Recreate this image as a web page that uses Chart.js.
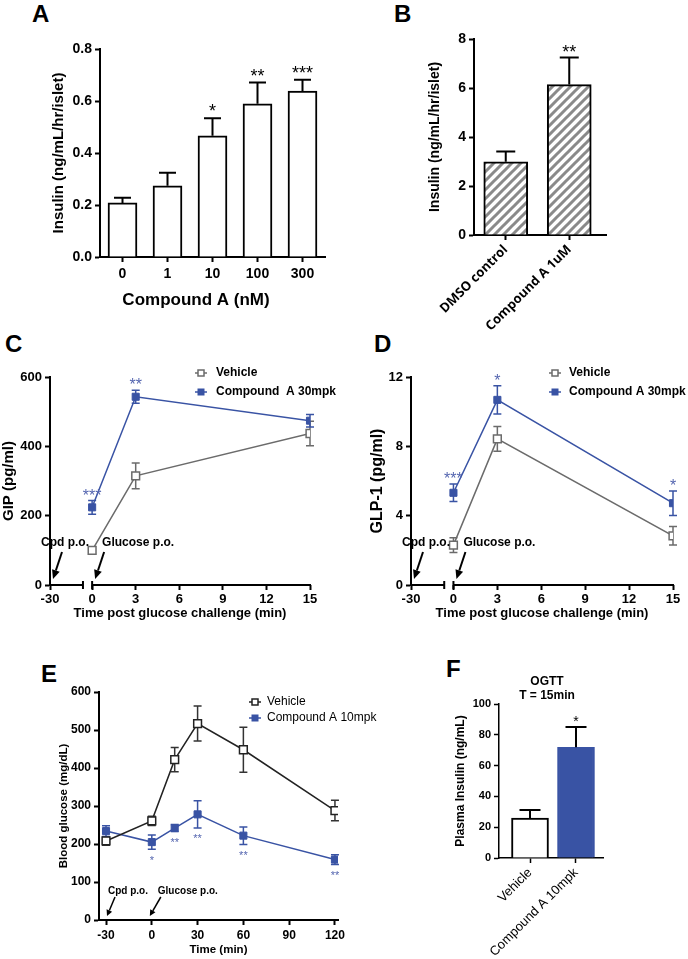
<!DOCTYPE html>
<html><head><meta charset="utf-8">
<script src="https://cdn.jsdelivr.net/npm/chart.js@4.4.1/dist/chart.umd.min.js"></script>
<style>
html,body{margin:0;padding:0;background:#fff;width:688px;height:959px;overflow:hidden;position:relative;}
.letter{position:absolute;font:bold 24px "Liberation Sans",Arial,sans-serif;line-height:1;color:#000;}
canvas{position:absolute;}
</style></head><body>
<div class="letter" style="left:32px;top:2px">A</div>
<div class="letter" style="left:394px;top:2px">B</div>
<div class="letter" style="left:5px;top:332px">C</div>
<div class="letter" style="left:374px;top:332px">D</div>
<div class="letter" style="left:41px;top:662px">E</div>
<div class="letter" style="left:446px;top:657px">F</div>
<script>
// ---------- DATA ----------
// Panel A
const aCategories = ['0', '1', '10', '100', '300'];
const aInsulin = [0.208, 0.274, 0.466, 0.589, 0.638];
const aInsulinErr = [0.020, 0.050, 0.068, 0.082, 0.044];
const aSig = ['', '', '*', '**', '***'];
const aYTicks = [0, 0.2, 0.4, 0.6, 0.8];

// Panel B
const bCategories = ['DMSO control', 'Compound A 1uM'];
const bInsulin = [2.99, 6.14];
const bInsulinErr = [0.42, 1.10];
const bSig = ['', '**'];
const bYTicks = [0, 2, 4, 6, 8];

// Panel C (GIP)
const cTime = [0, 3, 15];
const cVehicle = [100, 315, 437];
const cVehicleErr = [10, 37, 35];
const cCompound = [224, 543, 474];
const cCompoundErr = [20, 19, 18];
const cSig = ['***', '**', ''];
const cXTicks = [-30, 0, 3, 6, 9, 12, 15];
const cYTicks = [0, 200, 400, 600];

// Panel D (GLP-1)
const dTime = [0, 3, 15];
const dVehicle = [2.30, 8.43, 2.84];
const dVehicleErr = [0.42, 0.72, 0.53];
const dCompound = [5.32, 10.68, 4.72];
const dCompoundErr = [0.50, 0.81, 0.71];
const dSig = ['***', '*', '*'];
const dXTicks = [-30, 0, 3, 6, 9, 12, 15];
const dYTicks = [0, 4, 8, 12];

// Panel E (OGTT blood glucose)
const eTime = [-30, 0, 15, 30, 60, 120];
const eVehicle = [208, 261, 422, 517, 448, 288];
const eVehicleErr = [11, 12, 32, 46, 59, 27];
const eCompound = [234, 205, 242, 278, 222, 159];
const eCompoundErr = [14, 19, 9, 36, 23, 13];
const eSig = ['', '*', '**', '**', '**', '**'];
const eXTicks = [-30, 0, 30, 60, 90, 120];
const eYTicks = [0, 100, 200, 300, 400, 500, 600];

// Panel F (plasma insulin)
const fCategories = ['Vehicle', 'Compound A 10mpk'];
const fInsulin = [25.9, 71.9];
const fInsulinErr = [5.2, 13.2];
const fSig = ['', '*'];
const fYTicks = [0, 20, 40, 60, 80, 100];

// ---------- STYLE ----------
const FAM = '"Liberation Sans", Arial, Helvetica, sans-serif';
const BLUE = '#3953a4';
const GRAY = '#6b6b6b';
Chart.defaults.font.family = FAM;
Chart.defaults.color = '#000';
Chart.defaults.animation = false;
Chart.defaults.events = [];
Chart.defaults.plugins.legend.display = false;
Chart.defaults.plugins.tooltip.enabled = false;

// broken time axis: -30 min is shown close to 0
const BREAK_SHOWN_AT = -2.9, BREAK_GAP_FROM = -0.63;
const brk = t => (t < 0 ? BREAK_SHOWN_AT : t);

function makeCanvas(r) {
  const c = document.createElement('canvas');
  c.width = r[2]; c.height = r[3];
  c.style.left = r[0] + 'px'; c.style.top = r[1] + 'px';
  c.style.width = r[2] + 'px'; c.style.height = r[3] + 'px';
  document.body.appendChild(c);
  return c;
}
function frame(r, area) {
  return {
    padding: {left: 0, top: area.T - r[1], right: r[0] + r[2] - area.R, bottom: 0},
    yFit: s => { s.width = area.L - r[0]; },
    xFit: s => { s.height = r[1] + r[3] - area.B; }
  };
}
function bold(size) { return {family: FAM, size, weight: 'bold', lineHeight: 1.2}; }
function yTitle(text, font, cx) {
  return {display: true, text, font, color: '#000', padding: {top: cx - font.size * 0.6, bottom: 0}};
}
function xTitle(text, font, fromBottom) {
  return {display: true, text, font, color: '#000', padding: {top: 0, bottom: fromBottom - font.size * 0.6}};
}
function axisLook(lw, tl) {
  return {
    grid: {display: true, drawOnChartArea: false, drawTicks: true, tickLength: tl, tickWidth: lw, color: '#000', tickColor: '#000', offset: false},
    border: {display: true, color: '#000', width: lw}
  };
}
function linY(ticks, fit, font, title, fmt, lw) {
  return Object.assign({
    type: 'linear', position: 'left', min: ticks[0], max: ticks[ticks.length - 1],
    afterFit: fit,
    afterBuildTicks: s => { s.ticks = ticks.map(v => ({value: v})); },
    ticks: {font, color: '#000', padding: 3, callback: fmt || (v => String(v))},
    title
  }, axisLook(lw || 2, 5));
}

// ---------- PLUGINS ----------
function drawErrors(chart, layer) {
  const ctx = chart.ctx;
  chart.data.datasets.forEach((ds, i) => {
    if (!ds.errors || (ds.errorLayer || 'before') !== layer) return;
    const meta = chart.getDatasetMeta(i);
    const ys = chart.scales[meta.yAxisID];
    ctx.save();
    ctx.strokeStyle = ds.errorColor; ctx.lineWidth = ds.errorWidth;
    meta.data.forEach((el, j) => {
      const d = ds.data[j]; const v = typeof d === 'object' ? d.y : d;
      const e = ds.errors[j]; const x = el.x; const cw = ds.errorCap / 2;
      const yt = ys.getPixelForValue(v + e);
      const yb = ds.errorMode === 'up' ? ys.getPixelForValue(v) : ys.getPixelForValue(v - e);
      ctx.beginPath();
      ctx.moveTo(x, yt); ctx.lineTo(x, yb);
      ctx.moveTo(x - cw, yt); ctx.lineTo(x + cw, yt);
      if (ds.errorMode !== 'up') { ctx.moveTo(x - cw, yb); ctx.lineTo(x + cw, yb); }
      ctx.stroke();
    });
    ctx.restore();
  });
}
const errorPlugin = {
  id: 'errorBars',
  beforeDatasetsDraw(chart) { drawErrors(chart, 'before'); },
  afterDatasetsDraw(chart) {
    drawErrors(chart, 'after');
    const ctx = chart.ctx;
    chart.data.datasets.forEach((ds, i) => {
      if (!ds.sig) return;
      const meta = chart.getDatasetMeta(i);
      const ys = chart.scales[meta.yAxisID];
      ctx.save();
      ctx.fillStyle = ds.sigColor; ctx.font = ds.sigFont;
      ctx.textAlign = 'center'; ctx.textBaseline = 'alphabetic';
      meta.data.forEach((el, j) => {
        const s = ds.sig[j]; if (!s) return;
        const d = ds.data[j]; const v = typeof d === 'object' ? d.y : d; const e = ds.errors[j];
        let yc;
        if (ds.sigBelow) yc = ys.getPixelForValue(v - e) + ds.sigGap;
        else yc = ys.getPixelForValue(v + e) - ds.sigGap;
        ctx.fillText(s, el.x, yc + 0.57 * ds.sigSize);
      });
      ctx.restore();
    });
  }
};
const notesPlugin = {
  id: 'notes',
  afterDraw(chart, args, o) {
    const ctx = chart.ctx;
    const xs = chart.scales.x, ys = chart.scales.y;
    if (o.brokenAxis) {
      const y = chart.chartArea.bottom;
      const g1 = xs.getPixelForValue(BREAK_GAP_FROM), g2 = xs.getPixelForValue(0);
      ctx.save(); ctx.strokeStyle = '#000'; ctx.lineWidth = 2;
      ctx.beginPath();
      ctx.moveTo(xs.left - 1, y); ctx.lineTo(g1, y);
      ctx.moveTo(g2, y); ctx.lineTo(xs.right + 1, y);
      ctx.moveTo(g1, y - 4); ctx.lineTo(g1, y + 4);
      ctx.moveTo(g2, y - 4); ctx.lineTo(g2, y + 4);
      ctx.stroke(); ctx.restore();
    }
    (o.arrows || []).forEach(a => {
      const px = xs.getPixelForValue(a.at), py = ys.getPixelForValue(0);
      ctx.save();
      ctx.font = a.font; ctx.fillStyle = '#000'; ctx.textBaseline = 'middle'; ctx.textAlign = 'left';
      ctx.fillText(a.text, px + a.textDx, py + a.textDy);
      const x1 = px + a.tail[0], y1 = py + a.tail[1], x2 = px + a.tip[0], y2 = py + a.tip[1];
      const ang = Math.atan2(y2 - y1, x2 - x1);
      const hl = a.head, hw = a.headW;
      const bx = x2 - hl * Math.cos(ang), by = y2 - hl * Math.sin(ang);
      ctx.strokeStyle = '#000'; ctx.lineWidth = a.width;
      ctx.beginPath(); ctx.moveTo(x1, y1); ctx.lineTo(bx, by); ctx.stroke();
      ctx.beginPath(); ctx.moveTo(x2, y2);
      ctx.lineTo(bx + hw * Math.sin(ang), by - hw * Math.cos(ang));
      ctx.lineTo(bx - hw * Math.sin(ang), by + hw * Math.cos(ang));
      ctx.closePath(); ctx.fill();
      ctx.restore();
    });
    const lg = o.legend;
    if (lg) {
      chart.data.datasets.forEach((ds, i) => {
        const y = lg.y + i * lg.dy;
        ctx.save();
        ctx.strokeStyle = ds.borderColor; ctx.lineWidth = ds.borderWidth;
        ctx.beginPath(); ctx.moveTo(lg.x - lg.half, y); ctx.lineTo(lg.x + lg.half, y); ctx.stroke();
        const s = lg.box;
        ctx.fillStyle = ds.pointBackgroundColor; ctx.fillRect(lg.x - s / 2, y - s / 2, s, s);
        ctx.strokeStyle = ds.pointBorderColor; ctx.lineWidth = ds.pointBorderWidth;
        ctx.strokeRect(lg.x - s / 2, y - s / 2, s, s);
        ctx.font = lg.font; ctx.fillStyle = '#000'; ctx.textBaseline = 'middle'; ctx.textAlign = 'left';
        ctx.fillText(ds.label, lg.textX, y);
        ctx.restore();
      });
    }
    (o.texts || []).forEach(t => {
      ctx.save(); ctx.font = t.font; ctx.fillStyle = '#000'; ctx.textAlign = 'center'; ctx.textBaseline = 'middle';
      ctx.fillText(t.text, t.x, t.y); ctx.restore();
    });
    if (o.extendX) {
      const y = chart.chartArea.bottom;
      ctx.save(); ctx.strokeStyle = '#000'; ctx.lineWidth = o.extendX.w;
      ctx.beginPath(); ctx.moveTo(xs.right - 1, y); ctx.lineTo(xs.right + o.extendX.len, y); ctx.stroke(); ctx.restore();
    }
  }
};
Chart.register(errorPlugin, notesPlugin);

// ---------- PANEL A ----------
(function () {
  const R = [0, 0, 360, 330];
  const F = frame(R, {L: 100, T: 49, R: 325, B: 257});
  new Chart(makeCanvas(R), {
    type: 'bar',
    data: {labels: aCategories, datasets: [{
      data: aInsulin, backgroundColor: '#fff', borderColor: '#000', borderWidth: 2, borderSkipped: 'start',
      barThickness: 29,
      errors: aInsulinErr, errorMode: 'up', errorLayer: 'after', errorColor: '#000', errorWidth: 2, errorCap: 17,
      sig: aSig, sigColor: '#000', sigFont: '18px ' + FAM, sigSize: 18, sigGap: 11
    }]},
    options: {
      responsive: false, layout: {padding: F.padding},
      plugins: {notes: {texts: [{text: 'Compound A (nM)', x: 196, y: 300, font: 'bold 17px ' + FAM}]}},
      scales: {
        x: Object.assign({type: 'category', offset: true, afterFit: F.xFit,
          ticks: {font: bold(14), color: '#000', padding: 4}}, axisLook(2, 5)),
        y: linY(aYTicks, F.yFit, bold(14), yTitle('Insulin (ng/mL/hr/islet)', bold(15), 59), v => v.toFixed(1))
      }
    }
  });
})();

// ---------- PANEL B ----------
(function () {
  const R = [360, 0, 328, 345];
  const F = frame(R, {L: 474, T: 39, R: 601, B: 235});
  const t = document.createElement('canvas'); t.width = 9; t.height = 9;
  const g = t.getContext('2d');
  g.fillStyle = '#fff'; g.fillRect(0, 0, 9, 9);
  g.strokeStyle = '#8a8a8a'; g.lineWidth = 3;
  g.beginPath(); g.moveTo(-2, 11); g.lineTo(11, -2); g.moveTo(-2, 2); g.lineTo(2, -2); g.moveTo(7, 11); g.lineTo(11, 7); g.stroke();
  const ctx0 = document.createElement('canvas').getContext('2d');
  const hatch = ctx0.createPattern(t, 'repeat');
  new Chart(makeCanvas(R), {
    type: 'bar',
    data: {datasets: [{
      data: bInsulin.map((v, i) => ({x: i, y: v})),
      backgroundColor: hatch, borderColor: '#000', borderWidth: 2, borderSkipped: 'start', barThickness: 44,
      errors: bInsulinErr, errorMode: 'up', errorLayer: 'after', errorColor: '#000', errorWidth: 2, errorCap: 19,
      sig: bSig, sigColor: '#000', sigFont: '18px ' + FAM, sigSize: 18, sigGap: 10
    }]},
    options: {
      responsive: false, layout: {padding: F.padding},
      plugins: {notes: {extendX: {len: 6, w: 2}}},
      scales: {
        x: Object.assign({type: 'linear', min: -0.5, max: 1.5, offset: false, afterFit: F.xFit,
          afterBuildTicks: s => { s.ticks = bCategories.map((c, i) => ({value: i})); },
          ticks: {font: {family: '"Open Sans", ' + FAM, size: 13, weight: 'bold'}, color: '#000', padding: 2,
            minRotation: 45, maxRotation: 45, autoSkip: false, callback: (v, i) => bCategories[i]}}, axisLook(2, 5)),
        y: linY(bYTicks, F.yFit, bold(14), yTitle('Insulin (ng/mL/hr/islet)', bold(14), 75))
      }
    }
  });
})();

// ---------- PANELS C & D ----------
function timeCourse(R, area, yTicks, xTicks, time, veh, vehErr, cmp, cmpErr, sig, yLabel, ytx, ytSize, legendCfg, cmpLabel) {
  const F = frame(R, area);
  const ox = R[0], oy = R[1];
  const arrowFont = 'bold 12px ' + FAM;
  new Chart(makeCanvas(R), {
    type: 'line',
    data: {datasets: [
      {label: 'Vehicle', data: time.map((t, i) => ({x: brk(t), y: veh[i]})),
       borderColor: GRAY, borderWidth: 1.5, pointStyle: 'rect', pointRadius: 5.5,
       pointBackgroundColor: '#fff', pointBorderColor: GRAY, pointBorderWidth: 1.5,
       errors: vehErr, errorMode: 'both', errorColor: GRAY, errorWidth: 1.5, errorCap: 8},
      {label: cmpLabel, data: time.map((t, i) => ({x: brk(t), y: cmp[i]})),
       borderColor: BLUE, borderWidth: 1.5, pointStyle: 'rect', pointRadius: 5,
       pointBackgroundColor: BLUE, pointBorderColor: BLUE, pointBorderWidth: 1,
       errors: cmpErr, errorMode: 'both', errorColor: BLUE, errorWidth: 1.5, errorCap: 8,
       sig: sig, sigColor: '#5566b0', sigFont: '16px ' + FAM, sigSize: 16, sigGap: 9}
    ]},
    options: {
      responsive: false, layout: {padding: F.padding},
      plugins: {notes: {
        brokenAxis: true,
        legend: {x: legendCfg.x - ox, y: legendCfg.y - oy, dy: 19, half: 6, box: 6, textX: legendCfg.tx - ox, font: 'bold 12px ' + FAM},
        arrows: [
          {at: brk(-30), text: 'Cpd p.o.', font: arrowFont, textDx: -9, textDy: -42, tail: [12, -33], tip: [3, -6], head: 9, headW: 4, width: 2},
          {at: 0, text: 'Glucose p.o.', font: arrowFont, textDx: 10, textDy: -42, tail: [12, -33], tip: [3, -6], head: 9, headW: 4, width: 2}
        ]
      }},
      scales: {
        x: {type: 'linear', min: BREAK_SHOWN_AT, max: 15, afterFit: F.xFit,
          afterBuildTicks: s => { s.ticks = xTicks.map(t => ({value: brk(t)})); },
          ticks: {font: bold(13), color: '#000', padding: 2, autoSkip: false, maxRotation: 0, callback: (v, i) => String(xTicks[i])},
          grid: {display: true, drawOnChartArea: false, drawTicks: true, tickLength: 5, tickWidth: 2, color: '#000', tickColor: '#000'},
          border: {display: false},
          title: xTitle('Time post glucose challenge (min)', bold(13), R[1] + R[3] - 613)},
        y: linY(yTicks, F.yFit, bold(13), yTitle(yLabel, bold(ytSize), ytx - ox))
      }
    }
  });
}
timeCourse([0, 330, 344, 320], {L: 50, T: 377, R: 310, B: 585}, cYTicks, cXTicks, cTime,
  cVehicle, cVehicleErr, cCompound, cCompoundErr, cSig, 'GIP (pg/ml)', 9, 15,
  {x: 201, y: 373, tx: 216}, 'Compound  A 30mpk');
timeCourse([344, 330, 344, 320], {L: 411, T: 377, R: 673, B: 585}, dYTicks, dXTicks, dTime,
  dVehicle, dVehicleErr, dCompound, dCompoundErr, dSig, 'GLP-1 (pg/ml)', 378, 16,
  {x: 555, y: 373, tx: 569}, 'Compound A 30mpk');

// ---------- PANEL E ----------
(function () {
  const R = [0, 650, 440, 309];
  const F = frame(R, {L: 99, T: 692, R: 338, B: 920});
  const af = 'bold 10px ' + FAM;
  new Chart(makeCanvas(R), {
    type: 'line',
    data: {datasets: [
      {label: 'Vehicle', data: eTime.map((t, i) => ({x: t, y: eVehicle[i]})),
       borderColor: '#222', borderWidth: 1.5, pointStyle: 'rect', pointRadius: 5.5,
       pointBackgroundColor: '#fff', pointBorderColor: '#222', pointBorderWidth: 1.5,
       errors: eVehicleErr, errorMode: 'both', errorColor: '#333', errorWidth: 1.5, errorCap: 8},
      {label: 'Compound A 10mpk', data: eTime.map((t, i) => ({x: t, y: eCompound[i]})),
       borderColor: BLUE, borderWidth: 1.5, pointStyle: 'rect', pointRadius: 5,
       pointBackgroundColor: BLUE, pointBorderColor: BLUE, pointBorderWidth: 1,
       errors: eCompoundErr, errorMode: 'both', errorColor: BLUE, errorWidth: 1.5, errorCap: 8,
       sig: eSig, sigBelow: true, sigColor: '#5566b0', sigFont: '11px ' + FAM, sigSize: 11, sigGap: 8}
    ]},
    options: {
      responsive: false, layout: {padding: F.padding},
      plugins: {notes: {
        legend: {x: 255, y: 702 - 650, dy: 16, half: 6, box: 6, textX: 267, font: '12px ' + FAM},
        arrows: [
          {at: -30, text: 'Cpd p.o.', font: af, textDx: 2, textDy: -29, tail: [9, -23], tip: [1, -4], head: 6, headW: 3, width: 1.5},
          {at: 0, text: 'Glucose p.o.', font: af, textDx: 6, textDy: -29, tail: [9, -23], tip: [-2, -4], head: 6, headW: 3, width: 1.5}
        ]
      }},
      scales: {
        x: Object.assign({type: 'linear', min: -34.6, max: 122, afterFit: F.xFit,
          afterBuildTicks: s => { s.ticks = eXTicks.map(t => ({value: t})); },
          ticks: {font: bold(12), color: '#000', padding: 3, autoSkip: false, maxRotation: 0, callback: (v, i) => String(eXTicks[i])},
          title: xTitle('Time (min)', bold(11.5), 9)}, axisLook(2, 5)),
        y: linY(eYTicks, F.yFit, bold(12), yTitle('Blood glucose (mg/dL)', bold(11.5), 64))
      }
    }
  });
})();

// ---------- PANEL F ----------
(function () {
  const R = [440, 650, 248, 309];
  const F = frame(R, {L: 499, T: 704, R: 603, B: 858});
  new Chart(makeCanvas(R), {
    type: 'bar',
    data: {datasets: [{
      data: fInsulin.map((v, i) => ({x: i, y: v})),
      backgroundColor: ['#fff', BLUE], borderColor: ['#000', BLUE], borderWidth: 2, borderSkipped: 'start', barThickness: 37,
      errors: fInsulinErr, errorMode: 'up', errorLayer: 'after', errorColor: '#000', errorWidth: 2, errorCap: 21,
      sig: fSig, sigColor: '#000', sigFont: '14px ' + FAM, sigSize: 14, sigGap: 9
    }]},
    options: {
      responsive: false, layout: {padding: F.padding},
      plugins: {notes: {texts: [
        {text: 'OGTT', x: 547 - 440, y: 682 - 650, font: 'bold 12px ' + FAM},
        {text: 'T = 15min', x: 547 - 440, y: 696 - 650, font: 'bold 12px ' + FAM}
      ]}},
      scales: {
        x: Object.assign({type: 'linear', min: -0.674, max: 1.587, offset: false, afterFit: F.xFit,
          afterBuildTicks: s => { s.ticks = fCategories.map((c, i) => ({value: i})); },
          ticks: {font: {family: FAM, size: 13}, color: '#000', padding: 2,
            minRotation: 45, maxRotation: 45, autoSkip: false, callback: (v, i) => fCategories[i]}}, axisLook(1.5, 5)),
        y: linY(fYTicks, F.yFit, bold(11), yTitle('Plasma Insulin (ng/mL)', bold(12), 21), null, 1.5)
      }
    }
  });
})();
</script>
</body></html>
